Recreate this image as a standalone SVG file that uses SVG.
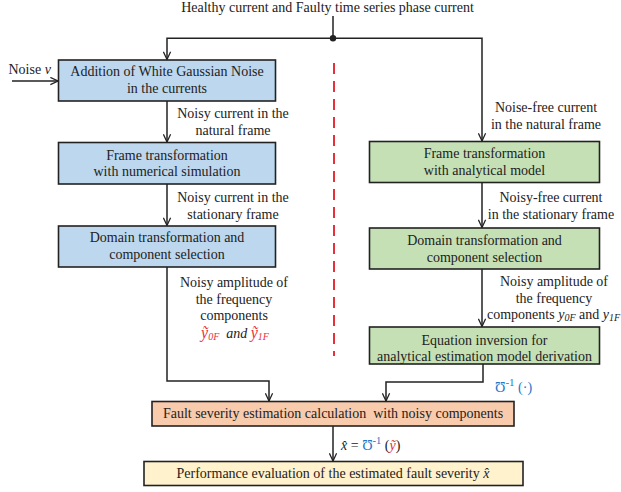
<svg xmlns="http://www.w3.org/2000/svg" width="621" height="492" viewBox="0 0 621 492">
<style>
text{font-family:"Liberation Serif","Times New Roman",serif;font-size:14px;fill:#222}
.c{text-anchor:middle}
.box{stroke:#222;stroke-width:1.6}
.blue{fill:#bdd7ee}.green{fill:#c5e0b4}.orange{fill:#f8cbad}.yellow{fill:#fff2cc}
.ln{fill:none;stroke:#222;stroke-width:1.5}
.arr{marker-end:url(#ah)}
.red{fill:#e8303a}
.bl{fill:#1f78c8}
.it{font-style:italic}
.sub{font-size:10px}
</style>
<defs>
<marker id="ah" viewBox="0 0 10 10" refX="9.5" refY="5" markerWidth="9" markerHeight="9" markerUnits="userSpaceOnUse" orient="auto">
<path d="M1,1 L9.5,5 L1,9" fill="none" stroke="#222" stroke-width="1.4"/>
</marker>
</defs>
<rect width="621" height="492" fill="#fff"/>
<text class="c" x="327.5" y="11.5">Healthy current and Faulty time series phase current</text>
<g id="connectors">
<path class="ln" d="M333,16 V38"/>
<circle cx="333" cy="38.3" r="3.2" fill="#222"/>
<path class="ln arr" d="M333,38.3 H167 V59.5"/>
<path class="ln arr" d="M333,38.3 H482 V141"/>
<path class="ln arr" d="M12,81 H58"/>
<path class="ln arr" d="M167,101 V142"/>
<path class="ln arr" d="M167,184 V225.5"/>
<path class="ln arr" d="M167,267 V381 H269 V401"/>
<path class="ln arr" d="M482,182.5 V227.5"/>
<path class="ln arr" d="M482,269 V326.5"/>
<path class="ln arr" d="M483,364 V382 H386 V401"/>
<path class="ln arr" d="M333,426 V461"/>
<path d="M334,63 V356" stroke="#e8303a" stroke-width="2" stroke-dasharray="11 7" fill="none"/>
</g>
<text x="8.5" y="74">Noise <tspan class="it">v</tspan></text>
<g id="n1"><rect class="box blue" x="58.5" y="60" width="217" height="41"/>
<text class="c" x="167" y="76">Addition of White Gaussian Noise</text><text class="c" x="167" y="92.5">in the currents</text></g>
<text class="c" x="233" y="118">Noisy current in the</text><text class="c" x="233" y="135">natural frame</text>
<g id="n2"><rect class="box blue" x="58.5" y="142.5" width="217" height="41.5"/>
<text class="c" x="167" y="159.5">Frame transformation</text><text class="c" x="167" y="176">with numerical simulation</text></g>
<text class="c" x="233" y="202">Noisy current in the</text><text class="c" x="233" y="219">stationary frame</text>
<g id="n3"><rect class="box blue" x="58.5" y="226" width="217" height="41"/>
<text class="c" x="167" y="242">Domain transformation and</text><text class="c" x="167" y="259">component selection</text></g>
<text class="c" x="234" y="287">Noisy amplitude of</text><text class="c" x="234" y="304">the frequency</text><text class="c" x="234" y="320">components</text>
<text class="c" x="235" y="338"><tspan class="it red" font-size="16">ỹ</tspan><tspan class="it red sub" dy="2">0F</tspan><tspan class="it" dy="-2" xml:space="preserve">  and </tspan><tspan class="it red" font-size="16">ỹ</tspan><tspan class="it red sub" dy="2">1F</tspan></text>
<text class="c" x="546" y="111.7">Noise-free current</text><text class="c" x="546" y="129">in the natural frame</text>
<g id="n4"><rect class="box green" x="369.5" y="141.5" width="230" height="41"/>
<text class="c" x="484.5" y="158">Frame transformation</text><text class="c" x="484.5" y="174.5">with analytical model</text></g>
<text class="c" x="551" y="202">Noisy-free current</text><text class="c" x="551" y="219">in the stationary frame</text>
<g id="n5"><rect class="box green" x="369.5" y="228" width="230" height="41"/>
<text class="c" x="484.5" y="245">Domain transformation and</text><text class="c" x="484.5" y="261.5">component selection</text></g>
<text class="c" x="554" y="286">Noisy amplitude of</text><text class="c" x="554" y="303">the frequency</text>
<text x="487" y="319">components <tspan class="it">y</tspan><tspan class="it sub" dy="2">0F</tspan><tspan dy="-2"> and </tspan><tspan class="it">y</tspan><tspan class="it sub" dy="2">1F</tspan></text>
<g id="n6"><rect class="box green" x="369.5" y="327" width="230" height="37"/>
<text class="c" x="484.5" y="345">Equation inversion for</text><text class="c" x="484.5" y="360.5">analytical estimation model derivation</text></g>
<text x="495" y="392" font-size="19"><tspan class="bl">Ʊ</tspan><tspan class="bl" font-size="11" dy="-6">-1</tspan><tspan class="bl" dy="6"> (·)</tspan></text>
<g id="n7"><rect class="box orange" x="152" y="401.5" width="362" height="24.5"/>
<text class="c" x="333" y="418.3" xml:space="preserve">Fault severity estimation calculation  with noisy components</text></g>
<text x="341" y="450" font-size="17.5"><tspan class="it">x̂</tspan> = <tspan class="bl">Ʊ</tspan><tspan class="bl" font-size="10.5" dy="-6">-1</tspan><tspan dy="6"> (</tspan><tspan class="it red">ỹ</tspan>)</text>
<g id="n8"><rect class="box yellow" x="144" y="461.5" width="379" height="24"/>
<text class="c" x="333" y="477.5">Performance evaluation of the estimated fault severity <tspan class="it">x̂</tspan></text></g>
</svg>
